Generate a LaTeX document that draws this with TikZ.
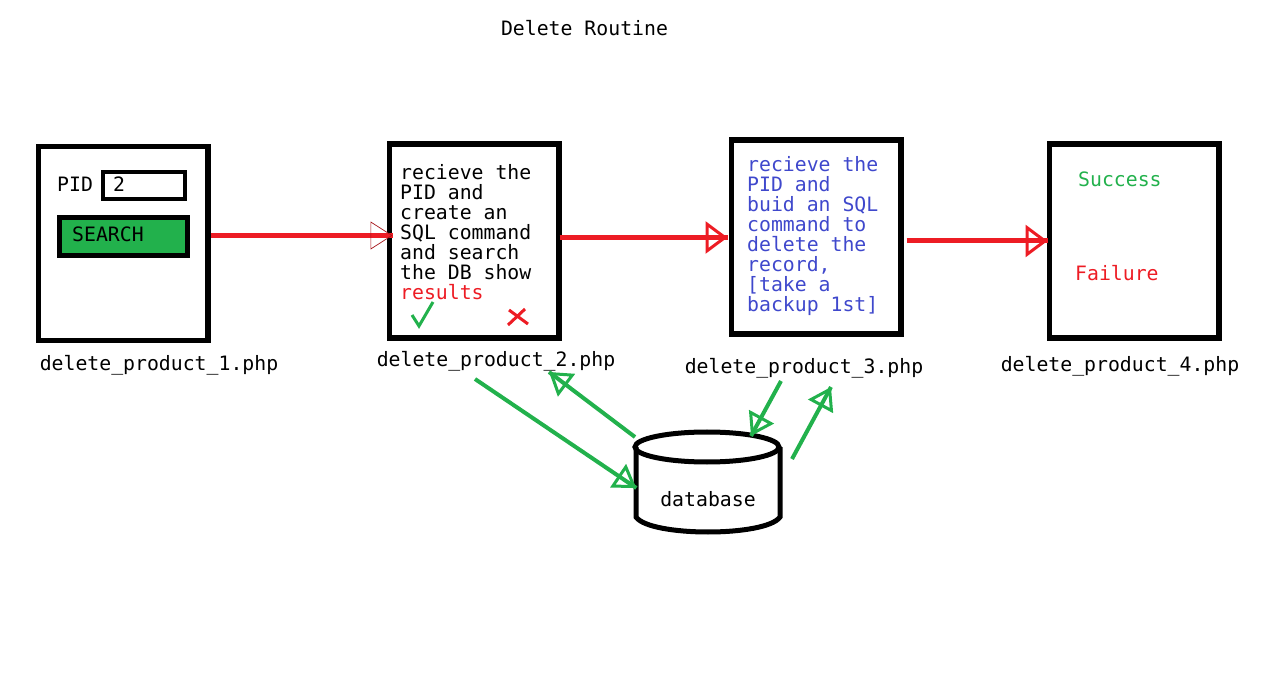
\documentclass[tikz,border=0pt]{standalone}
\usepackage{fontspec}
\setmonofont{DejaVu Sans Mono}
\usetikzlibrary{shapes,calc,arrows.meta,decorations.markings}
\definecolor{pgreen}{RGB}{34,177,76}
\definecolor{pred}{RGB}{237,28,36}
\definecolor{pblue}{RGB}{63,72,204}

\begin{document}
\begin{tikzpicture}[x=1pt,y=-1pt]
		\tikzset{txt/.style={font=\ttfamily\fontsize{19.8}{20}\selectfont,inner sep=0pt,align=left}};
		\tikzset{page/.style={draw,line width=5.5pt,minimum width=169.5pt,minimum height=194pt,inner sep=0pt}};
		\tikzset{->-/.style n args={3}{decoration={
					markings,
					mark=at position 1 with {\arrow{Triangle[open,length=22pt,width=#2,color=#1,line width=#3]}}},postaction={decorate}}};
		\tikzset{redflow/.style={color=pred,line width=5pt,->-={pred}{32pt}{3pt}}};
		\tikzset{greenflow/.style={color=pgreen,line width=4pt,->-={pgreen}{28pt}{3pt}}};
		
		\useasboundingbox (0,0) rectangle (1262,676);
		
		\node (title) at (584.5,28) [txt]{Delete Routine};
		
		\node (page1) at (123,243.5) [page]{};
		\node (page2) at (474,241) [page]{};
		\node (page3) at (816,237) [page]{};
		\node (page4) at (1134,241) [page]{};
		
		\node (file1) at (159,365) [txt]{delete\_product\_1.php};
		\node (file2) at (496,361) [txt]{delete\_product\_2.php};
		\node (file3) at (804,368) [txt]{delete\_product\_3.php};
		\node (file4) at (1120,366) [txt]{delete\_product\_4.php};
		
		\node (pid) at (57,184) [txt,anchor=west]{PID};
		\node (input) at (144,185.5) [draw,line width=4pt,minimum width=82pt,minimum height=27pt,inner sep=0pt]{};
		\node (val) at (113,184) [txt,anchor=west]{2};
		\node (search) at (123.5,236.5) [draw,fill=pgreen,line width=5pt,minimum width=128pt,minimum height=38pt,inner sep=0pt]{};
		\node (searchtxt) at (72,234) [txt,anchor=west]{SEARCH};
		
		\node (recv) at (400,164) [txt,anchor=north west]{recieve the\\PID and\\create an\\SQL command\\and search\\the DB show\\\textcolor{pred}{results}};
		\node (build) at (747,156) [txt,anchor=north west,text=pblue]{recieve the\\PID and\\buid an SQL\\command to\\delete the\\record,\\{[take a}\\backup 1st]};
		\node (ok) at (1078,179) [txt,anchor=west,text=pgreen]{Success};
		\node (fail) at (1075,273) [txt,anchor=west,text=pred]{Failure};
		
		\draw [color=pgreen,line width=3pt] (412,315)--(419,326)--(433,302);
		\draw [color=pred,line width=3pt] (509,310)--(528,324) (508,325)--(525,309);
		
		% drum drawn by hand, the node only carries the name
		\node (db) at (708,482) [minimum width=145pt,minimum height=102pt,inner sep=0pt]{};
		\draw [line width=5pt] (707,447) ellipse [x radius=72pt,y radius=15pt];
		\draw [line width=5pt] (636,447)--(636,517) .. controls (650,537) and (766,537) .. (780,517)--(780,447);
		\node (dbtxt) at (708,499) [txt]{database};
		
		\coordinate (out2) at (475,379);
		\coordinate (back2) at (549,372);
		\coordinate (out3) at (781,381);
		\coordinate (up3) at (792,459);
		\coordinate (back3) at (831,387);
		
		\draw [color=pred,line width=5pt,decoration={markings,mark=at position 1 with {\arrow{Triangle[open,length=22pt,width=28pt,color=pred!70!black,line width=.7pt]}}},postaction={decorate}] ([yshift=8pt]page1.east)--([xshift=6pt,yshift=5.5pt]page2.west);
		\draw [redflow] ([xshift=-2pt,yshift=3.5pt]page2.east)--([xshift=-1pt,yshift=-.5pt]page3.west);
		\draw [redflow] ([xshift=3pt,yshift=-4pt]page3.east)--([xshift=1pt]page4.west);
		
		\draw [greenflow] (out2)--([xshift=1pt,yshift=-6pt]db.west);
		\draw [greenflow] ([xshift=-73pt,yshift=45pt]db.center)--(back2);
		\draw [greenflow] (out3)--([xshift=43pt,yshift=46pt]db.center);
		\draw [greenflow] (up3)--(back3);
		\end{tikzpicture}
\end{document}
